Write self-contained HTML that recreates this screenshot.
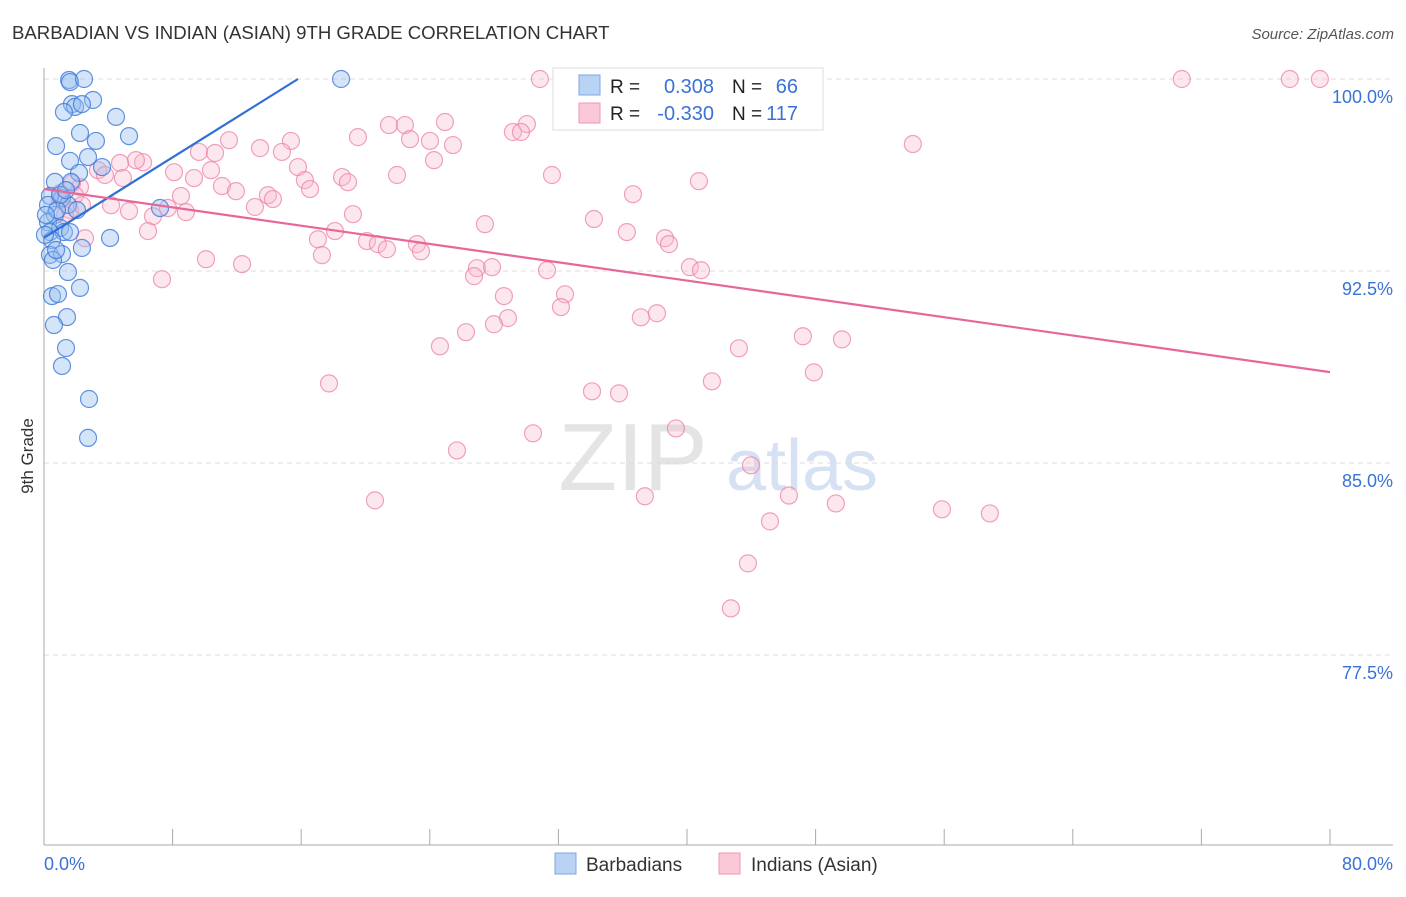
<!DOCTYPE html>
<html><head><meta charset="utf-8"><style>
body{margin:0;background:#fff;font-family:"Liberation Sans",sans-serif;}
svg text{font-family:"Liberation Sans",sans-serif;}
</style></head><body>
<svg id="chart" width="1406" height="892" viewBox="0 0 1406 892" xmlns="http://www.w3.org/2000/svg">
<text x="12" y="39" font-size="18.6" fill="#333">BARBADIAN VS INDIAN (ASIAN) 9TH GRADE CORRELATION CHART</text>
<text x="1394" y="39" font-size="15" fill="#555" font-style="italic" text-anchor="end">Source: ZipAtlas.com</text>
<text transform="translate(33,456) rotate(-90)" font-size="17" fill="#333" text-anchor="middle">9th Grade</text>
<g>
<text x="633" y="490" font-size="96" fill="#e4e4e4" font-family="Liberation Serif" text-anchor="middle">ZIP</text>
<text x="802" y="490" font-size="72" fill="#d6e2f3" text-anchor="middle">atlas</text>
</g>
<g id="grid"></g><g id="axes"></g><g id="pinkPts"></g><g id="bluePts"></g><g id="trends"></g>
<g>
<rect x="553" y="68" width="270" height="62" fill="#fff" stroke="#ddd"/>
<rect x="579" y="75" width="21" height="20" fill="#b9d3f5" stroke="#7aa7e6"/>
<rect x="579" y="103" width="21" height="20" fill="#fac8d7" stroke="#ee9ab4"/>
<text x="610" y="93" font-size="19" fill="#222">R =</text><text x="714" y="93" font-size="20" fill="#3a72d6" text-anchor="end">0.308</text>
<text x="732" y="93" font-size="19" fill="#222">N =</text><text x="798" y="93" font-size="20" fill="#3a72d6" text-anchor="end">66</text>
<text x="610" y="120" font-size="19" fill="#222">R =</text><text x="714" y="120" font-size="20" fill="#3a72d6" text-anchor="end">-0.330</text>
<text x="732" y="120" font-size="19" fill="#222">N =</text><text x="798" y="120" font-size="20" fill="#3a72d6" text-anchor="end">117</text>
</g>
<g>
<rect x="555" y="853" width="21" height="21" fill="#b9d3f5" stroke="#7aa7e6"/>
<text x="586" y="871" font-size="19" fill="#333">Barbadians</text>
<rect x="719" y="853" width="21" height="21" fill="#fac8d7" stroke="#ee9ab4"/>
<text x="751" y="871" font-size="19" fill="#333">Indians (Asian)</text>
</g>
</svg>
<script>
const yTicks=[100,92.5,85,77.5];
const yTickLabels=["100.0%","92.5%","85.0%","77.5%"];
const xTicks=[0,8,16,24,32,40,48,56,64,72,80];
const xEndLabels=["0.0%","80.0%"];
const blueX=[1.56,1.62,2.49,18.48,3.05,1.74,1.93,2.36,1.24,4.48,2.24,5.29,3.23,0.75,2.74,1.62,3.61,2.18,0.68,1.68,7.22,1.12,0.37,1.49,2.05,0.68,0.25,1.0,0.37,1.24,4.11,0.5,2.36,0.37,1.12,0.56,1.49,2.24,0.5,0.87,1.43,0.62,1.37,1.12,2.80,2.74,0.25,0.81,0.06,1.0,1.37,0.75,1.62,0.12];
const blueY=[99.96,99.88,100,100,99.18,99.02,98.91,99.02,98.71,98.52,97.89,97.77,97.58,97.38,96.95,96.80,96.56,96.33,95.98,95.98,94.96,95.35,95.43,95.08,94.88,94.69,94.41,94.18,94.02,94.02,93.79,93.71,93.40,93.13,93.16,92.93,92.46,91.84,91.52,91.60,90.70,90.39,89.49,88.79,87.50,85.98,95.08,94.88,93.91,95.47,95.66,93.32,94.02,94.69];
const pinkX=[30.85,46.71,47.02,70.78,77.5,79.37,21.46,22.45,24.94,30.04,29.17,29.67,22.77,19.53,24.01,25.44,54.05,11.51,15.36,13.44,14.80,24.26,9.64,10.64,6.16,5.72,4.73,3.36,3.79,8.09,10.39,15.80,21.96,18.54,18.91,31.60,40.74,4.91,9.33,16.23,11.07,11.94,16.55,2.24,1.74,1.0,8.52,13.93,14.24,36.64,4.17,5.29,7.71,8.83,13.12,19.22,34.21,27.43,6.78,6.47,17.04,18.10,20.09,20.77,21.33,23.20,23.45,36.26,38.63,38.88,2.55,17.29,10.08,12.32,7.34,26.93,27.87,26.75,31.29,40.18,40.87,28.61,32.41,32.16,28.86,27.99,26.25,37.13,38.13,24.63,43.23,47.21,49.64,41.55,47.89,17.73,34.09,35.77,30.42,39.31,25.69,43.98,20.59,37.38,46.34,49.26,55.86,58.84,45.16,43.79,42.73,1.0,1.62,1.93,1.31,2.36];
const pinkY=[100,100,99.96,100,100,100,98.20,98.20,98.32,98.24,97.93,97.93,97.65,97.73,97.58,97.42,97.46,97.61,97.58,97.30,97.15,96.83,97.15,97.11,96.75,96.83,96.72,96.44,96.25,96.36,96.44,96.56,96.25,96.17,95.97,96.25,96.01,96.13,96.13,96.05,95.82,95.62,95.70,95.78,95.93,95.54,95.43,95.46,95.31,95.50,95.07,94.84,94.96,94.80,95.00,94.72,94.53,94.33,94.64,94.06,93.74,94.06,93.67,93.55,93.35,93.55,93.27,94.02,93.78,93.55,93.78,93.12,92.96,92.77,92.18,92.61,92.65,92.30,92.53,92.65,92.53,91.52,91.59,91.09,90.66,90.42,90.11,90.69,90.85,89.56,89.48,89.95,89.83,88.19,88.54,88.11,87.80,87.72,86.16,86.35,85.49,84.91,83.54,83.70,83.73,83.42,83.19,83.03,82.72,81.08,79.32,95.27,94.88,95.46,94.68,95.07];
const blueTrendX=[0,15.8];
const blueTrendY=[93.8,100];
const pinkTrendX=[0,80];
const pinkTrendY=[95.7,88.55];

const NS="http://www.w3.org/2000/svg";
function sx(v){return 44+v/80*1286;}
function sy(v){return 79+(100-v)*25.6;}
function mk(tag,attrs,parent){const e=document.createElementNS(NS,tag);for(const k in attrs)e.setAttribute(k,attrs[k]);document.getElementById(parent).appendChild(e);return e;}
yTicks.forEach((t,i)=>{
  const l=mk('line',{x1:44,x2:1393,y1:sy(t),y2:sy(t),stroke:'#ddd','stroke-dasharray':'5,4'},'grid');
  
  
  const tx=mk('text',{x:1393,y:sy(t)+24,'font-size':18,fill:'#3a72d6','text-anchor':'end'},'grid');
  tx.textContent=yTickLabels[i];
  
  
});
const ya=mk('line',{x1:44,x2:44,y1:68,y2:845,stroke:'#aaa'},'axes');


const xa=mk('line',{x1:44,x2:1393,y1:845,y2:845,stroke:'#aaa'},'axes');


xTicks.forEach(t=>{
  const l=mk('line',{x1:sx(t),x2:sx(t),y1:829,y2:845,stroke:'#aaa'},'axes');
  
  
});
[[xTicks[0],'start',44],[xTicks[xTicks.length-1],'end',1393]].forEach((d,i)=>{
  const tx=mk('text',{x:d[2],y:870,'font-size':18,fill:'#3a72d6','text-anchor':d[1]},'axes');
  tx.textContent=xEndLabels[i];
  
  
});
pinkX.forEach((x,i)=>{
  const c=mk('circle',{cx:sx(x),cy:sy(pinkY[i]),r:8.5,fill:'rgba(248,185,205,0.35)',stroke:'rgba(236,130,165,0.75)','stroke-width':1.2},'pinkPts');
  
  
});
blueX.forEach((x,i)=>{
  const c=mk('circle',{cx:sx(x),cy:sy(blueY[i]),r:8.5,fill:'rgba(150,190,240,0.4)',stroke:'rgba(60,120,215,0.8)','stroke-width':1.2},'bluePts');
  
  
});
const bt=mk('line',{x1:sx(blueTrendX[0]),y1:sy(blueTrendY[0]),x2:sx(blueTrendX[1]),y2:sy(blueTrendY[1]),stroke:'#2f6fd6','stroke-width':2.2},'trends');


const pt=mk('line',{x1:sx(pinkTrendX[0]),y1:sy(pinkTrendY[0]),x2:sx(pinkTrendX[1]),y2:sy(pinkTrendY[1]),stroke:'#e8679a','stroke-width':2.2},'trends');


</script>
</body></html>
